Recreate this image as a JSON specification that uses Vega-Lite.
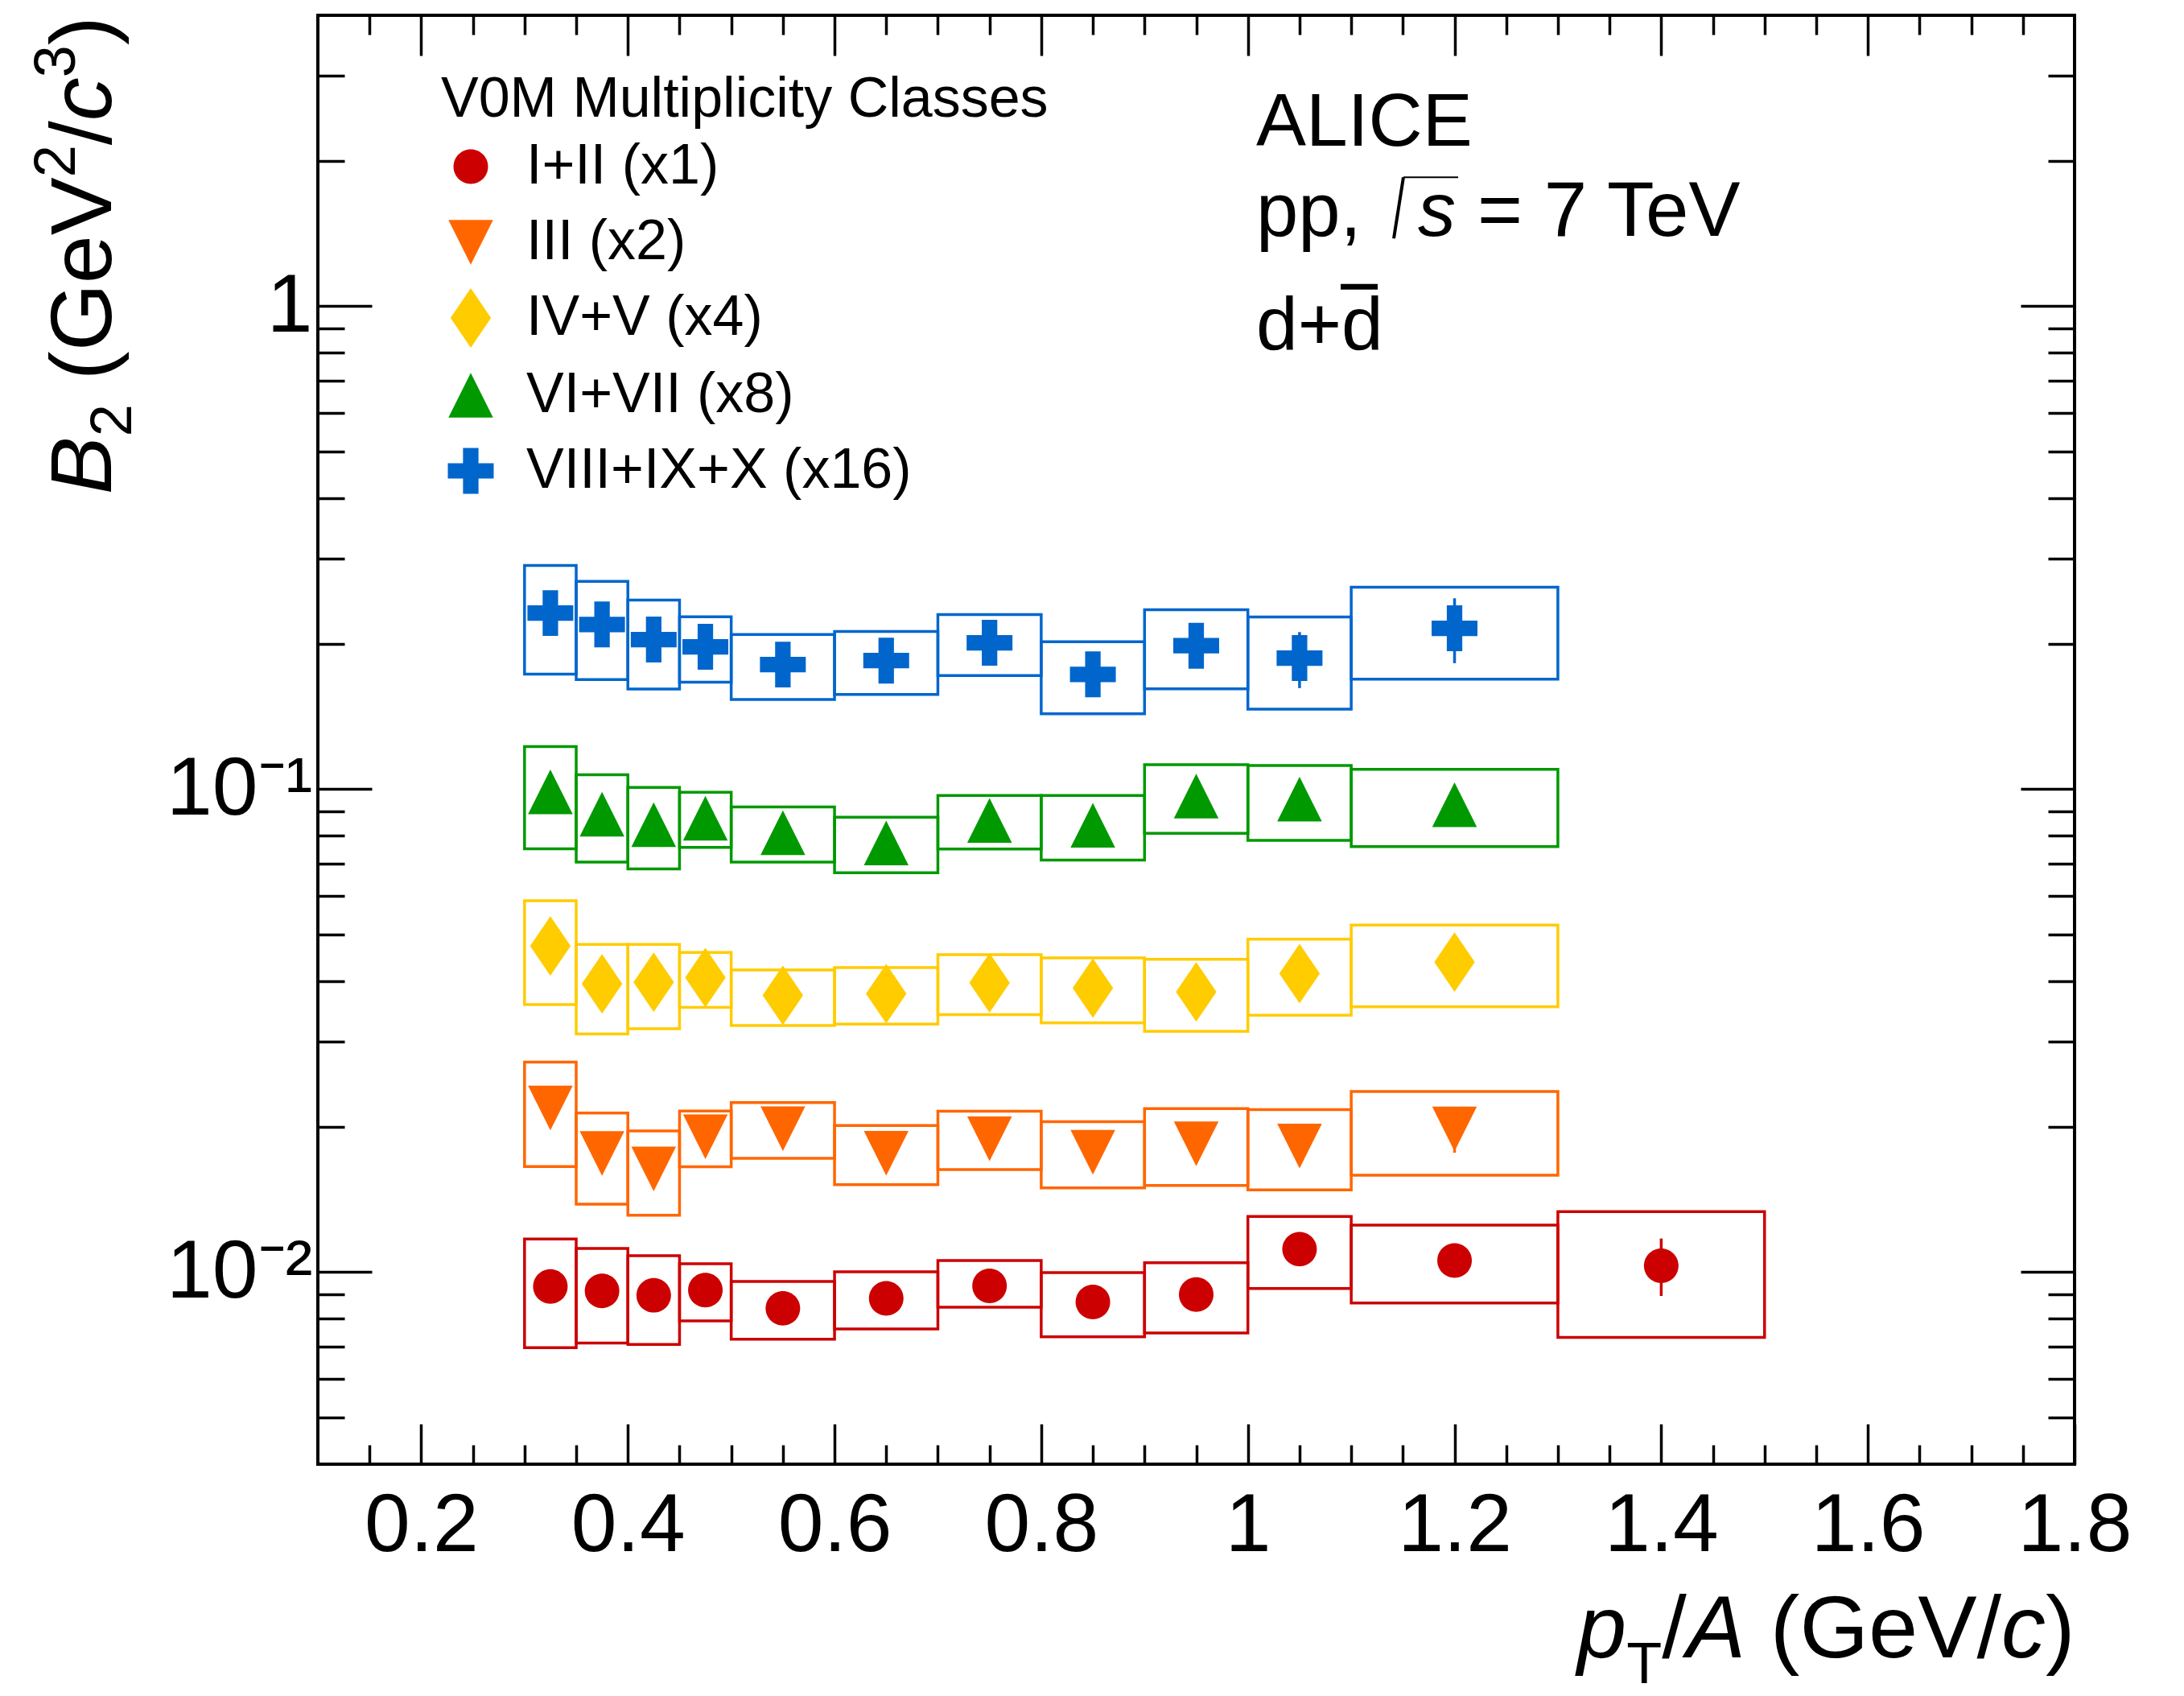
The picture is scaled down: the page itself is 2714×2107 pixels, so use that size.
{
  "$schema": "https://vega.github.io/schema/vega-lite/v6.json",
  "width": 2183,
  "height": 1800,
  "autosize": {"type": "none"},
  "padding": {"left": 395, "top": 19, "right": 136, "bottom": 288},
  "background": "white",
  "config": {
    "font": "Liberation Sans",
    "view": {"stroke": "black", "strokeWidth": 4},
    "text": {"font": "Liberation Sans", "color": "black", "baseline": "alphabetic", "align": "left"},
    "axis": {
      "grid": false,
      "domain": false,
      "tickColor": "black",
      "tickWidth": 3.5,
      "labelFont": "Liberation Sans",
      "labelFontSize": 102,
      "labelColor": "black",
      "labelLimit": 0,
      "labelOverlap": false,
      "labelBound": false,
      "labelFlush": false
    }
  },
  "datasets": {
    "b2": [
      {"series": "I+II (x1)", "x": 0.325, "xlo": 0.30, "xhi": 0.35, "y": 0.00933, "slo": 0.00697, "shi": 0.0117, "elo": 0.0089, "ehi": 0.0098},
      {"series": "I+II (x1)", "x": 0.375, "xlo": 0.35, "xhi": 0.40, "y": 0.00914, "slo": 0.00713, "shi": 0.01119, "elo": 0.0087, "ehi": 0.0096},
      {"series": "I+II (x1)", "x": 0.425, "xlo": 0.40, "xhi": 0.45, "y": 0.00895, "slo": 0.00708, "shi": 0.01081, "elo": 0.0085, "ehi": 0.0094},
      {"series": "I+II (x1)", "x": 0.475, "xlo": 0.45, "xhi": 0.50, "y": 0.00917, "slo": 0.00792, "shi": 0.0104, "elo": 0.0087, "ehi": 0.0096},
      {"series": "I+II (x1)", "x": 0.55, "xlo": 0.50, "xhi": 0.60, "y": 0.00841, "slo": 0.00726, "shi": 0.00956, "elo": 0.0080, "ehi": 0.0088},
      {"series": "I+II (x1)", "x": 0.65, "xlo": 0.60, "xhi": 0.70, "y": 0.00882, "slo": 0.00762, "shi": 0.01001, "elo": 0.0084, "ehi": 0.0093},
      {"series": "I+II (x1)", "x": 0.75, "xlo": 0.70, "xhi": 0.80, "y": 0.00936, "slo": 0.00845, "shi": 0.01056, "elo": 0.0089, "ehi": 0.0098},
      {"series": "I+II (x1)", "x": 0.85, "xlo": 0.80, "xhi": 0.90, "y": 0.00867, "slo": 0.00734, "shi": 0.00997, "elo": 0.0082, "ehi": 0.0091},
      {"series": "I+II (x1)", "x": 0.95, "xlo": 0.90, "xhi": 1.00, "y": 0.00898, "slo": 0.00748, "shi": 0.01045, "elo": 0.0085, "ehi": 0.0095},
      {"series": "I+II (x1)", "x": 1.05, "xlo": 1.00, "xhi": 1.10, "y": 0.01115, "slo": 0.00924, "shi": 0.01303, "elo": 0.0106, "ehi": 0.0117},
      {"series": "I+II (x1)", "x": 1.2, "xlo": 1.10, "xhi": 1.30, "y": 0.01056, "slo": 0.00863, "shi": 0.01251, "elo": 0.0100, "ehi": 0.0111},
      {"series": "I+II (x1)", "x": 1.4, "xlo": 1.30, "xhi": 1.50, "y": 0.0103, "slo": 0.00732, "shi": 0.01334, "elo": 0.00892, "ehi": 0.01173},
      {"series": "III (x2)", "x": 0.325, "xlo": 0.30, "xhi": 0.35, "y": 0.02185, "slo": 0.01653, "shi": 0.0272, "elo": 0.0208, "ehi": 0.0229},
      {"series": "III (x2)", "x": 0.375, "xlo": 0.35, "xhi": 0.40, "y": 0.01759, "slo": 0.01382, "shi": 0.02133, "elo": 0.0167, "ehi": 0.0185},
      {"series": "III (x2)", "x": 0.425, "xlo": 0.40, "xhi": 0.45, "y": 0.01635, "slo": 0.0131, "shi": 0.0196, "elo": 0.0155, "ehi": 0.0172},
      {"series": "III (x2)", "x": 0.475, "xlo": 0.45, "xhi": 0.50, "y": 0.01905, "slo": 0.01651, "shi": 0.02154, "elo": 0.0181, "ehi": 0.0200},
      {"series": "III (x2)", "x": 0.55, "xlo": 0.50, "xhi": 0.60, "y": 0.0198, "slo": 0.0172, "shi": 0.02242, "elo": 0.0188, "ehi": 0.0208},
      {"series": "III (x2)", "x": 0.65, "xlo": 0.60, "xhi": 0.70, "y": 0.01762, "slo": 0.01516, "shi": 0.0201, "elo": 0.0167, "ehi": 0.0185},
      {"series": "III (x2)", "x": 0.75, "xlo": 0.70, "xhi": 0.80, "y": 0.01888, "slo": 0.0163, "shi": 0.02152, "elo": 0.0179, "ehi": 0.0198},
      {"series": "III (x2)", "x": 0.85, "xlo": 0.80, "xhi": 0.90, "y": 0.0177, "slo": 0.01493, "shi": 0.02047, "elo": 0.0168, "ehi": 0.0186},
      {"series": "III (x2)", "x": 0.95, "xlo": 0.90, "xhi": 1.00, "y": 0.01842, "slo": 0.0151, "shi": 0.02179, "elo": 0.0175, "ehi": 0.0193},
      {"series": "III (x2)", "x": 1.05, "xlo": 1.00, "xhi": 1.10, "y": 0.01823, "slo": 0.01479, "shi": 0.02168, "elo": 0.0173, "ehi": 0.0191},
      {"series": "III (x2)", "x": 1.2, "xlo": 1.10, "xhi": 1.30, "y": 0.01978, "slo": 0.01587, "shi": 0.02365, "elo": 0.01766, "ehi": 0.0218},
      {"series": "IV+V (x4)", "x": 0.325, "xlo": 0.30, "xhi": 0.35, "y": 0.0473, "slo": 0.0358, "shi": 0.0587, "elo": 0.0449, "ehi": 0.0497},
      {"series": "IV+V (x4)", "x": 0.375, "xlo": 0.35, "xhi": 0.40, "y": 0.0395, "slo": 0.0311, "shi": 0.0477, "elo": 0.0375, "ehi": 0.0415},
      {"series": "IV+V (x4)", "x": 0.425, "xlo": 0.40, "xhi": 0.45, "y": 0.0398, "slo": 0.0319, "shi": 0.0477, "elo": 0.0378, "ehi": 0.0418},
      {"series": "IV+V (x4)", "x": 0.475, "xlo": 0.45, "xhi": 0.50, "y": 0.0407, "slo": 0.0353, "shi": 0.0459, "elo": 0.0387, "ehi": 0.0427},
      {"series": "IV+V (x4)", "x": 0.55, "xlo": 0.50, "xhi": 0.60, "y": 0.0374, "slo": 0.0324, "shi": 0.0422, "elo": 0.0355, "ehi": 0.0393},
      {"series": "IV+V (x4)", "x": 0.65, "xlo": 0.60, "xhi": 0.70, "y": 0.0377, "slo": 0.0326, "shi": 0.0427, "elo": 0.0358, "ehi": 0.0396},
      {"series": "IV+V (x4)", "x": 0.75, "xlo": 0.70, "xhi": 0.80, "y": 0.0397, "slo": 0.0341, "shi": 0.0454, "elo": 0.0377, "ehi": 0.0417},
      {"series": "IV+V (x4)", "x": 0.85, "xlo": 0.80, "xhi": 0.90, "y": 0.0387, "slo": 0.0328, "shi": 0.0447, "elo": 0.0368, "ehi": 0.0406},
      {"series": "IV+V (x4)", "x": 0.95, "xlo": 0.90, "xhi": 1.00, "y": 0.038, "slo": 0.0315, "shi": 0.0444, "elo": 0.0361, "ehi": 0.0399},
      {"series": "IV+V (x4)", "x": 1.05, "xlo": 1.00, "xhi": 1.10, "y": 0.0415, "slo": 0.034, "shi": 0.0489, "elo": 0.0394, "ehi": 0.0436},
      {"series": "IV+V (x4)", "x": 1.2, "xlo": 1.10, "xhi": 1.30, "y": 0.0438, "slo": 0.0354, "shi": 0.0523, "elo": 0.0416, "ehi": 0.046},
      {"series": "VI+VII (x8)", "x": 0.325, "xlo": 0.30, "xhi": 0.35, "y": 0.0987, "slo": 0.0752, "shi": 0.1224, "elo": 0.0938, "ehi": 0.1036},
      {"series": "VI+VII (x8)", "x": 0.375, "xlo": 0.35, "xhi": 0.40, "y": 0.0887, "slo": 0.0706, "shi": 0.107, "elo": 0.0843, "ehi": 0.0931},
      {"series": "VI+VII (x8)", "x": 0.425, "xlo": 0.40, "xhi": 0.45, "y": 0.0844, "slo": 0.0683, "shi": 0.1008, "elo": 0.0802, "ehi": 0.0886},
      {"series": "VI+VII (x8)", "x": 0.475, "xlo": 0.45, "xhi": 0.50, "y": 0.087, "slo": 0.0757, "shi": 0.0985, "elo": 0.0827, "ehi": 0.0914},
      {"series": "VI+VII (x8)", "x": 0.55, "xlo": 0.50, "xhi": 0.60, "y": 0.0812, "slo": 0.0706, "shi": 0.0918, "elo": 0.0771, "ehi": 0.0853},
      {"series": "VI+VII (x8)", "x": 0.65, "xlo": 0.60, "xhi": 0.70, "y": 0.0773, "slo": 0.0671, "shi": 0.0874, "elo": 0.0734, "ehi": 0.0812},
      {"series": "VI+VII (x8)", "x": 0.75, "xlo": 0.70, "xhi": 0.80, "y": 0.0861, "slo": 0.0751, "shi": 0.097, "elo": 0.0818, "ehi": 0.0904},
      {"series": "VI+VII (x8)", "x": 0.85, "xlo": 0.80, "xhi": 0.90, "y": 0.0841, "slo": 0.0713, "shi": 0.097, "elo": 0.0799, "ehi": 0.0883},
      {"series": "VI+VII (x8)", "x": 0.95, "xlo": 0.90, "xhi": 1.00, "y": 0.0967, "slo": 0.081, "shi": 0.1123, "elo": 0.0919, "ehi": 0.1015},
      {"series": "VI+VII (x8)", "x": 1.05, "xlo": 1.00, "xhi": 1.10, "y": 0.0953, "slo": 0.0783, "shi": 0.1119, "elo": 0.0905, "ehi": 0.1001},
      {"series": "VI+VII (x8)", "x": 1.2, "xlo": 1.10, "xhi": 1.30, "y": 0.0928, "slo": 0.076, "shi": 0.1098, "elo": 0.0882, "ehi": 0.0974},
      {"series": "VIII+IX+X (x16)", "x": 0.325, "xlo": 0.30, "xhi": 0.35, "y": 0.2314, "slo": 0.1729, "shi": 0.2903, "elo": 0.2198, "ehi": 0.243},
      {"series": "VIII+IX+X (x16)", "x": 0.375, "xlo": 0.35, "xhi": 0.40, "y": 0.2191, "slo": 0.1685, "shi": 0.2692, "elo": 0.2081, "ehi": 0.2301},
      {"series": "VIII+IX+X (x16)", "x": 0.425, "xlo": 0.40, "xhi": 0.45, "y": 0.2039, "slo": 0.1611, "shi": 0.2461, "elo": 0.1937, "ehi": 0.2141},
      {"series": "VIII+IX+X (x16)", "x": 0.475, "xlo": 0.45, "xhi": 0.50, "y": 0.197, "slo": 0.1664, "shi": 0.2274, "elo": 0.1872, "ehi": 0.2069},
      {"series": "VIII+IX+X (x16)", "x": 0.55, "xlo": 0.50, "xhi": 0.60, "y": 0.181, "slo": 0.1533, "shi": 0.2089, "elo": 0.172, "ehi": 0.19},
      {"series": "VIII+IX+X (x16)", "x": 0.65, "xlo": 0.60, "xhi": 0.70, "y": 0.1845, "slo": 0.1569, "shi": 0.2119, "elo": 0.1753, "ehi": 0.1937},
      {"series": "VIII+IX+X (x16)", "x": 0.75, "xlo": 0.70, "xhi": 0.80, "y": 0.2008, "slo": 0.1718, "shi": 0.2297, "elo": 0.1908, "ehi": 0.2108},
      {"series": "VIII+IX+X (x16)", "x": 0.85, "xlo": 0.80, "xhi": 0.90, "y": 0.1727, "slo": 0.1432, "shi": 0.2018, "elo": 0.1641, "ehi": 0.1813},
      {"series": "VIII+IX+X (x16)", "x": 0.95, "xlo": 0.90, "xhi": 1.00, "y": 0.198, "slo": 0.1613, "shi": 0.235, "elo": 0.1881, "ehi": 0.2079},
      {"series": "VIII+IX+X (x16)", "x": 1.05, "xlo": 1.00, "xhi": 1.10, "y": 0.1867, "slo": 0.1464, "shi": 0.2271, "elo": 0.1618, "ehi": 0.2113},
      {"series": "VIII+IX+X (x16)", "x": 1.2, "xlo": 1.10, "xhi": 1.30, "y": 0.2152, "slo": 0.1689, "shi": 0.2617, "elo": 0.1822, "ehi": 0.2483}
    ]
  },
  "layer": [
    {
      "data": {"name": "b2"},
      "mark": {"type": "rect", "filled": false, "strokeWidth": 3.5},
      "encoding": {
        "x": {
          "field": "xlo",
          "type": "quantitative",
          "scale": {"domain": [0.1, 1.8], "nice": false, "zero": false},
          "axis": {
            "orient": "bottom",
            "title": null,
            "values": [0.15, 0.2, 0.25, 0.3, 0.35, 0.4, 0.45, 0.5, 0.55, 0.6, 0.65, 0.7, 0.75, 0.8, 0.85, 0.9, 0.95, 1, 1.05, 1.1, 1.15, 1.2, 1.25, 1.3, 1.35, 1.4, 1.45, 1.5, 1.55, 1.6, 1.65, 1.7, 1.75, 1.8],
            "labelExpr": "abs(datum.value*5-round(datum.value*5))<0.001 ? '' + (round(datum.value*10)/10) : ''",
            "tickSize": {"condition": {"test": "abs(datum.value*5-round(datum.value*5))<0.001", "value": -50}, "value": -24},
            "labelPadding": 76
          }
        },
        "x2": {"field": "xhi"},
        "y": {
          "field": "slo",
          "type": "quantitative",
          "scale": {"type": "log", "domain": [0.004, 4], "nice": false},
          "axis": {
            "orient": "left",
            "title": null,
            "values": [0.005, 0.006, 0.007, 0.008, 0.009, 0.01, 0.02, 0.03, 0.04, 0.05, 0.06, 0.07, 0.08, 0.09, 0.1, 0.2, 0.3, 0.4, 0.5, 0.6, 0.7, 0.8, 0.9, 1, 2, 3],
            "labelExpr": "datum.value == 1 ? '1' : datum.value == 0.1 ? '10⁻¹' : datum.value == 0.01 ? '10⁻²' : ''",
            "tickSize": {"condition": {"test": "abs(log(datum.value)/LN10-round(log(datum.value)/LN10))<0.001", "value": -67}, "value": -33},
            "labelPadding": 74,
            "labelBaseline": "middle"
          }
        },
        "y2": {"field": "shi"},
        "stroke": {
          "field": "series",
          "type": "nominal",
          "scale": {
            "domain": ["VIII+IX+X (x16)", "VI+VII (x8)", "IV+V (x4)", "III (x2)", "I+II (x1)"],
            "range": ["#0066cc", "#009900", "#ffcc00", "#ff6600", "#cc0000"]
          },
          "legend": null
        }
      }
    },
    {
      "data": {"name": "b2"},
      "mark": {"type": "rule", "strokeWidth": 3.5},
      "encoding": {
        "x": {"field": "x", "type": "quantitative", "scale": {"domain": [0.1, 1.8], "nice": false, "zero": false}, "axis": null},
        "y": {"field": "elo", "type": "quantitative", "scale": {"type": "log", "domain": [0.004, 4], "nice": false}, "axis": null},
        "y2": {"field": "ehi"},
        "stroke": {
          "field": "series",
          "type": "nominal",
          "scale": {
            "domain": ["VIII+IX+X (x16)", "VI+VII (x8)", "IV+V (x4)", "III (x2)", "I+II (x1)"],
            "range": ["#0066cc", "#009900", "#ffcc00", "#ff6600", "#cc0000"]
          },
          "legend": null
        }
      }
    },
    {
      "data": {"name": "b2"},
      "mark": {"type": "point", "filled": true, "size": 5476, "opacity": 1, "strokeWidth": 0},
      "encoding": {
        "x": {"field": "x", "type": "quantitative", "scale": {"domain": [0.1, 1.8], "nice": false, "zero": false}, "axis": null},
        "y": {"field": "y", "type": "quantitative", "scale": {"type": "log", "domain": [0.004, 4], "nice": false}, "axis": null},
        "color": {
          "field": "series",
          "type": "nominal",
          "scale": {
            "domain": ["I+II (x1)", "III (x2)", "IV+V (x4)", "VI+VII (x8)", "VIII+IX+X (x16)"],
            "range": ["#cc0000", "#ff6600", "#ffcc00", "#009900", "#0066cc"]
          },
          "legend": {
            "orient": "none", "legendX": 153, "legendY": 71, "padding": 0,
            "title": "V0M Multiplicity Classes",
            "titleFont": "Liberation Sans", "titleFontSize": 70, "titleFontWeight": "normal", "titleColor": "black", "titlePadding": 10, "titleLimit": 0,
            "labelFont": "Liberation Sans", "labelFontSize": 70, "labelColor": "black", "labelLimit": 0, "labelOffset": 32,
            "symbolSize": 5476, "symbolStrokeWidth": 0, "rowPadding": 22
          }
        },
        "shape": {
          "field": "series",
          "type": "nominal",
          "scale": {
            "domain": ["I+II (x1)", "III (x2)", "IV+V (x4)", "VI+VII (x8)", "VIII+IX+X (x16)"],
            "range": [
              "M-0.58,0A0.58,0.58,0,1,0,0.58,0A0.58,0.58,0,1,0,-0.58,0Z",
              "M-0.75,-0.75L0.75,-0.75L0,0.75Z",
              "M0,-1L0.68,0L0,1L-0.68,0Z",
              "M0,-0.75L0.75,0.75L-0.75,0.75Z",
              "M-0.26,-0.77L0.26,-0.77L0.26,-0.26L0.77,-0.26L0.77,0.26L0.26,0.26L0.26,0.77L-0.26,0.77L-0.26,0.26L-0.77,0.26L-0.77,-0.26L-0.26,-0.26Z"
            ]
          },
          "legend": {
            "orient": "none", "legendX": 153, "legendY": 71, "padding": 0,
            "title": "V0M Multiplicity Classes",
            "titleFont": "Liberation Sans", "titleFontSize": 70, "titleFontWeight": "normal", "titleColor": "black", "titlePadding": 10, "titleLimit": 0,
            "labelFont": "Liberation Sans", "labelFontSize": 70, "labelColor": "black", "labelLimit": 0, "labelOffset": 32,
            "symbolSize": 5476, "symbolStrokeWidth": 0, "rowPadding": 22
          }
        }
      }
    },
    {
      "data": {"values": [{}]},
      "mark": {"type": "text", "text": "ALICE", "fontSize": 93},
      "encoding": {
        "x": {"datum": 1.008, "type": "quantitative", "scale": {"domain": [0.1, 1.8], "nice": false, "zero": false}, "axis": null},
        "y": {"datum": 2.1462, "type": "quantitative", "scale": {"type": "log", "domain": [0.004, 4], "nice": false}, "axis": null}
      }
    },
    {
      "data": {"values": [{}]},
      "mark": {"type": "text", "text": "pp,", "fontSize": 94},
      "encoding": {
        "x": {"datum": 1.008, "type": "quantitative", "scale": {"domain": [0.1, 1.8], "nice": false, "zero": false}, "axis": null},
        "y": {"datum": 1.3964, "type": "quantitative", "scale": {"type": "log", "domain": [0.004, 4], "nice": false}, "axis": null}
      }
    },
    {
      "data": {"values": [{}]},
      "mark": {"type": "rule", "strokeWidth": 4, "color": "black"},
      "encoding": {
        "x": {"datum": 1.1412, "type": "quantitative", "scale": {"domain": [0.1, 1.8], "nice": false, "zero": false}, "axis": null},
        "x2": {"datum": 1.1505},
        "y": {"datum": 1.3804, "type": "quantitative", "scale": {"type": "log", "domain": [0.004, 4], "nice": false}, "axis": null},
        "y2": {"datum": 1.8478}
      }
    },
    {
      "data": {"values": [{}]},
      "mark": {"type": "rule", "strokeWidth": 2, "color": "black"},
      "encoding": {
        "x": {"datum": 1.1505, "type": "quantitative", "scale": {"domain": [0.1, 1.8], "nice": false, "zero": false}, "axis": null},
        "x2": {"datum": 1.2035},
        "y": {"datum": 1.8478, "type": "quantitative", "scale": {"type": "log", "domain": [0.004, 4], "nice": false}, "axis": null}
      }
    },
    {
      "data": {"values": [{}]},
      "mark": {"type": "text", "text": "s", "fontSize": 94, "fontStyle": "italic"},
      "encoding": {
        "x": {"datum": 1.1645, "type": "quantitative", "scale": {"domain": [0.1, 1.8], "nice": false, "zero": false}, "axis": null},
        "y": {"datum": 1.3964, "type": "quantitative", "scale": {"type": "log", "domain": [0.004, 4], "nice": false}, "axis": null}
      }
    },
    {
      "data": {"values": [{}]},
      "mark": {"type": "text", "text": "= 7 TeV", "fontSize": 96},
      "encoding": {
        "x": {"datum": 1.2222, "type": "quantitative", "scale": {"domain": [0.1, 1.8], "nice": false, "zero": false}, "axis": null},
        "y": {"datum": 1.3964, "type": "quantitative", "scale": {"type": "log", "domain": [0.004, 4], "nice": false}, "axis": null}
      }
    },
    {
      "data": {"values": [{}]},
      "mark": {"type": "text", "text": "d+d", "fontSize": 93},
      "encoding": {
        "x": {"datum": 1.008, "type": "quantitative", "scale": {"domain": [0.1, 1.8], "nice": false, "zero": false}, "axis": null},
        "y": {"datum": 0.81283, "type": "quantitative", "scale": {"type": "log", "domain": [0.004, 4], "nice": false}, "axis": null}
      }
    },
    {
      "data": {"values": [{}]},
      "mark": {"type": "rule", "strokeWidth": 7, "color": "black"},
      "encoding": {
        "x": {"datum": 1.0898, "type": "quantitative", "scale": {"domain": [0.1, 1.8], "nice": false, "zero": false}, "axis": null},
        "x2": {"datum": 1.1256},
        "y": {"datum": 1.0965, "type": "quantitative", "scale": {"type": "log", "domain": [0.004, 4], "nice": false}, "axis": null}
      }
    },
    {
      "data": {"values": [{}]},
      "mark": {"type": "text", "text": "p", "fontSize": 110, "fontStyle": "italic"},
      "encoding": {
        "x": {"datum": 1.3187, "type": "quantitative", "scale": {"domain": [0.1, 1.8], "nice": false, "zero": false}, "axis": null},
        "y": {"datum": 0.001591, "type": "quantitative", "scale": {"type": "log", "domain": [0.004, 4], "nice": false}, "axis": null}
      }
    },
    {
      "data": {"values": [{}]},
      "mark": {"type": "text", "text": "T", "fontSize": 72},
      "encoding": {
        "x": {"datum": 1.3664, "type": "quantitative", "scale": {"domain": [0.1, 1.8], "nice": false, "zero": false}, "axis": null},
        "y": {"datum": 0.001407, "type": "quantitative", "scale": {"type": "log", "domain": [0.004, 4], "nice": false}, "axis": null}
      }
    },
    {
      "data": {"values": [{}]},
      "mark": {"type": "text", "text": "/", "fontSize": 110},
      "encoding": {
        "x": {"datum": 1.4007, "type": "quantitative", "scale": {"domain": [0.1, 1.8], "nice": false, "zero": false}, "axis": null},
        "y": {"datum": 0.001591, "type": "quantitative", "scale": {"type": "log", "domain": [0.004, 4], "nice": false}, "axis": null}
      }
    },
    {
      "data": {"values": [{}]},
      "mark": {"type": "text", "text": "A", "fontSize": 110, "fontStyle": "italic"},
      "encoding": {
        "x": {"datum": 1.4245, "type": "quantitative", "scale": {"domain": [0.1, 1.8], "nice": false, "zero": false}, "axis": null},
        "y": {"datum": 0.001591, "type": "quantitative", "scale": {"type": "log", "domain": [0.004, 4], "nice": false}, "axis": null}
      }
    },
    {
      "data": {"values": [{}]},
      "mark": {"type": "text", "text": "(GeV/", "fontSize": 110},
      "encoding": {
        "x": {"datum": 1.5055, "type": "quantitative", "scale": {"domain": [0.1, 1.8], "nice": false, "zero": false}, "axis": null},
        "y": {"datum": 0.001591, "type": "quantitative", "scale": {"type": "log", "domain": [0.004, 4], "nice": false}, "axis": null}
      }
    },
    {
      "data": {"values": [{}]},
      "mark": {"type": "text", "text": "c", "fontSize": 110, "fontStyle": "italic"},
      "encoding": {
        "x": {"datum": 1.7292, "type": "quantitative", "scale": {"domain": [0.1, 1.8], "nice": false, "zero": false}, "axis": null},
        "y": {"datum": 0.001591, "type": "quantitative", "scale": {"type": "log", "domain": [0.004, 4], "nice": false}, "axis": null}
      }
    },
    {
      "data": {"values": [{}]},
      "mark": {"type": "text", "text": ")", "fontSize": 110},
      "encoding": {
        "x": {"datum": 1.772, "type": "quantitative", "scale": {"domain": [0.1, 1.8], "nice": false, "zero": false}, "axis": null},
        "y": {"datum": 0.001591, "type": "quantitative", "scale": {"type": "log", "domain": [0.004, 4], "nice": false}, "axis": null}
      }
    },
    {
      "data": {"values": [{}]},
      "mark": {"type": "text", "text": "B", "fontSize": 108, "fontStyle": "italic", "angle": 270},
      "encoding": {
        "x": {"datum": -0.10014, "type": "quantitative", "scale": {"domain": [0.1, 1.8], "nice": false, "zero": false}, "axis": null},
        "y": {"datum": 0.40738, "type": "quantitative", "scale": {"type": "log", "domain": [0.004, 4], "nice": false}, "axis": null}
      }
    },
    {
      "data": {"values": [{}]},
      "mark": {"type": "text", "text": "2", "fontSize": 72, "angle": 270},
      "encoding": {
        "x": {"datum": -0.08067, "type": "quantitative", "scale": {"domain": [0.1, 1.8], "nice": false, "zero": false}, "axis": null},
        "y": {"datum": 0.53703, "type": "quantitative", "scale": {"type": "log", "domain": [0.004, 4], "nice": false}, "axis": null}
      }
    },
    {
      "data": {"values": [{}]},
      "mark": {"type": "text", "text": "(GeV", "fontSize": 108, "angle": 270},
      "encoding": {
        "x": {"datum": -0.10014, "type": "quantitative", "scale": {"domain": [0.1, 1.8], "nice": false, "zero": false}, "axis": null},
        "y": {"datum": 0.70236, "type": "quantitative", "scale": {"type": "log", "domain": [0.004, 4], "nice": false}, "axis": null}
      }
    },
    {
      "data": {"values": [{}]},
      "mark": {"type": "text", "text": "2", "fontSize": 72, "angle": 270},
      "encoding": {
        "x": {"datum": -0.13518, "type": "quantitative", "scale": {"domain": [0.1, 1.8], "nice": false, "zero": false}, "axis": null},
        "y": {"datum": 1.8478, "type": "quantitative", "scale": {"type": "log", "domain": [0.004, 4], "nice": false}, "axis": null}
      }
    },
    {
      "data": {"values": [{}]},
      "mark": {"type": "text", "text": "/", "fontSize": 108, "angle": 270},
      "encoding": {
        "x": {"datum": -0.10014, "type": "quantitative", "scale": {"domain": [0.1, 1.8], "nice": false, "zero": false}, "axis": null},
        "y": {"datum": 2.1544, "type": "quantitative", "scale": {"type": "log", "domain": [0.004, 4], "nice": false}, "axis": null}
      }
    },
    {
      "data": {"values": [{}]},
      "mark": {"type": "text", "text": "c", "fontSize": 108, "fontStyle": "italic", "angle": 270},
      "encoding": {
        "x": {"datum": -0.10014, "type": "quantitative", "scale": {"domain": [0.1, 1.8], "nice": false, "zero": false}, "axis": null},
        "y": {"datum": 2.4163, "type": "quantitative", "scale": {"type": "log", "domain": [0.004, 4], "nice": false}, "axis": null}
      }
    },
    {
      "data": {"values": [{}]},
      "mark": {"type": "text", "text": "3", "fontSize": 72, "angle": 270},
      "encoding": {
        "x": {"datum": -0.13518, "type": "quantitative", "scale": {"domain": [0.1, 1.8], "nice": false, "zero": false}, "axis": null},
        "y": {"datum": 2.9744, "type": "quantitative", "scale": {"type": "log", "domain": [0.004, 4], "nice": false}, "axis": null}
      }
    },
    {
      "data": {"values": [{}]},
      "mark": {"type": "text", "text": ")", "fontSize": 108, "angle": 270},
      "encoding": {
        "x": {"datum": -0.10014, "type": "quantitative", "scale": {"domain": [0.1, 1.8], "nice": false, "zero": false}, "axis": null},
        "y": {"datum": 3.4674, "type": "quantitative", "scale": {"type": "log", "domain": [0.004, 4], "nice": false}, "axis": null}
      }
    },
    {
      "data": {"name": "b2"},
      "mark": {"type": "point", "opacity": 0},
      "encoding": {
        "x": {
          "field": "x",
          "type": "quantitative",
          "scale": {"domain": [0.1, 1.8], "nice": false, "zero": false},
          "axis": {
            "orient": "top",
            "title": null,
            "labels": false,
            "values": [0.15, 0.2, 0.25, 0.3, 0.35, 0.4, 0.45, 0.5, 0.55, 0.6, 0.65, 0.7, 0.75, 0.8, 0.85, 0.9, 0.95, 1, 1.05, 1.1, 1.15, 1.2, 1.25, 1.3, 1.35, 1.4, 1.45, 1.5, 1.55, 1.6, 1.65, 1.7, 1.75],
            "tickSize": {"condition": {"test": "abs(datum.value*5-round(datum.value*5))<0.001", "value": -50}, "value": -24}
          }
        },
        "y": {
          "field": "y",
          "type": "quantitative",
          "scale": {"type": "log", "domain": [0.004, 4], "nice": false},
          "axis": {
            "orient": "right",
            "title": null,
            "labels": false,
            "values": [0.005, 0.006, 0.007, 0.008, 0.009, 0.01, 0.02, 0.03, 0.04, 0.05, 0.06, 0.07, 0.08, 0.09, 0.1, 0.2, 0.3, 0.4, 0.5, 0.6, 0.7, 0.8, 0.9, 1, 2, 3],
            "tickSize": {"condition": {"test": "abs(log(datum.value)/LN10-round(log(datum.value)/LN10))<0.001", "value": -67}, "value": -33}
          }
        }
      }
    }
  ],
  "resolve": {
    "scale": {"x": "independent", "y": "independent"},
    "axis": {"x": "independent", "y": "independent"}
  }
}
